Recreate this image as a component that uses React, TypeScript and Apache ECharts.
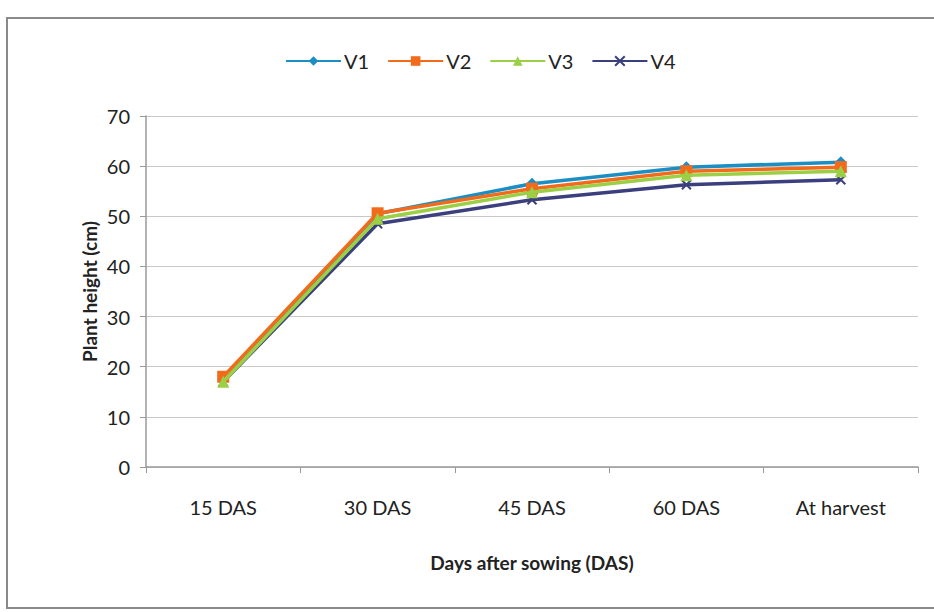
import React, { useEffect, useRef } from "react";
import * as echarts from "echarts";

const categories = ["15 DAS", "30 DAS", "45 DAS", "60 DAS", "At harvest"];
const v1 = [17.5, 50.5, 56.5, 59.8, 60.8];
const v2 = [18.0, 50.6, 55.5, 59.0, 59.8];
const v3 = [17.0, 49.5, 54.8, 58.2, 59.0];
const v4 = [17.0, 48.5, 53.3, 56.3, 57.3];
const seriesNames = ["V1", "V2", "V3", "V4"];
const colors = ["#1b8fc4", "#f26b1d", "#9bcf45", "#3b3f7d"];
const symbols = ["diamond", "rect", "triangle", "path://M0,0 L2,2 M2,0 L0,2"];

const FONT = "Lato, 'Open Sans', sans-serif";

export default function App() {
  const ref = useRef<HTMLDivElement>(null);
  useEffect(() => {
    if (!ref.current) return;
    const chart = echarts.init(ref.current, undefined, { renderer: "svg" });
    const data = [v1, v2, v3, v4];
    chart.setOption({
      animation: false,
      backgroundColor: "#ffffff",
      textStyle: { fontFamily: FONT },
      graphic: [
        {
          type: "rect",
          shape: { x: 7, y: 18, width: 930, height: 590 },
          style: { fill: "none", stroke: "#8a8a8a", lineWidth: 2 },
          silent: true,
        },
      ],
      legend: {
        top: 46,
        left: 280,
        itemWidth: 55,
        itemHeight: 12,
        itemGap: 18,
        textStyle: { fontSize: 20, color: "#222", fontFamily: FONT, padding: [0, 0, 0, -2] },
        data: seriesNames,
      },
      grid: { left: 146, right: 16, top: 116, bottom: 145, containLabel: false },
      xAxis: {
        type: "category",
        data: categories,
        boundaryGap: true,
        axisLine: { show: true, lineStyle: { color: "#9a9a9a", width: 1.5 } },
        axisTick: { show: true, length: 6, inside: false, lineStyle: { color: "#9a9a9a" } },
        axisLabel: { fontSize: 20, color: "#222", margin: 30, fontFamily: FONT },
        name: "Days after sowing (DAS)",
        nameLocation: "middle",
        nameGap: 86,
        nameMoveOverlap: false,
        nameTextStyle: { fontSize: 19, fontWeight: "bold", color: "#222", fontFamily: FONT },
      },
      yAxis: {
        type: "value",
        min: 0,
        max: 70,
        interval: 10,
        axisLine: { show: true, lineStyle: { color: "#9a9a9a", width: 1.5 } },
        axisTick: { show: true, length: 6, lineStyle: { color: "#9a9a9a" } },
        splitLine: { show: true, lineStyle: { color: "#c8c8c8", width: 1.2 } },
        axisLabel: { fontSize: 20, color: "#222", margin: 16, fontFamily: FONT },
        name: "Plant height (cm)",
        nameLocation: "middle",
        nameGap: 47,
        nameMoveOverlap: false,
        nameRotate: 90,
        nameTextStyle: { fontSize: 19, fontWeight: "bold", color: "#222", fontFamily: FONT },
      },
      series: seriesNames.map((name, i) => ({
        name,
        type: "line",
        data: data[i],
        symbol: symbols[i],
        symbolSize: i === 2 ? 12 : i === 3 ? 9 : 12,
        showSymbol: true,
        z: [2, 3, 4, 1][i],
        lineStyle: { color: colors[i], width: 3.5 },
        itemStyle: {
          color: colors[i],
          borderColor: colors[i],
          borderWidth: i === 3 ? 2 : 0,
        },
      })),
    });
    return () => chart.dispose();
  }, []);
  return (
    <div
      ref={ref}
      style={{ position: "fixed", left: 0, top: 0, width: 934, height: 612 }}
    />
  );
}
